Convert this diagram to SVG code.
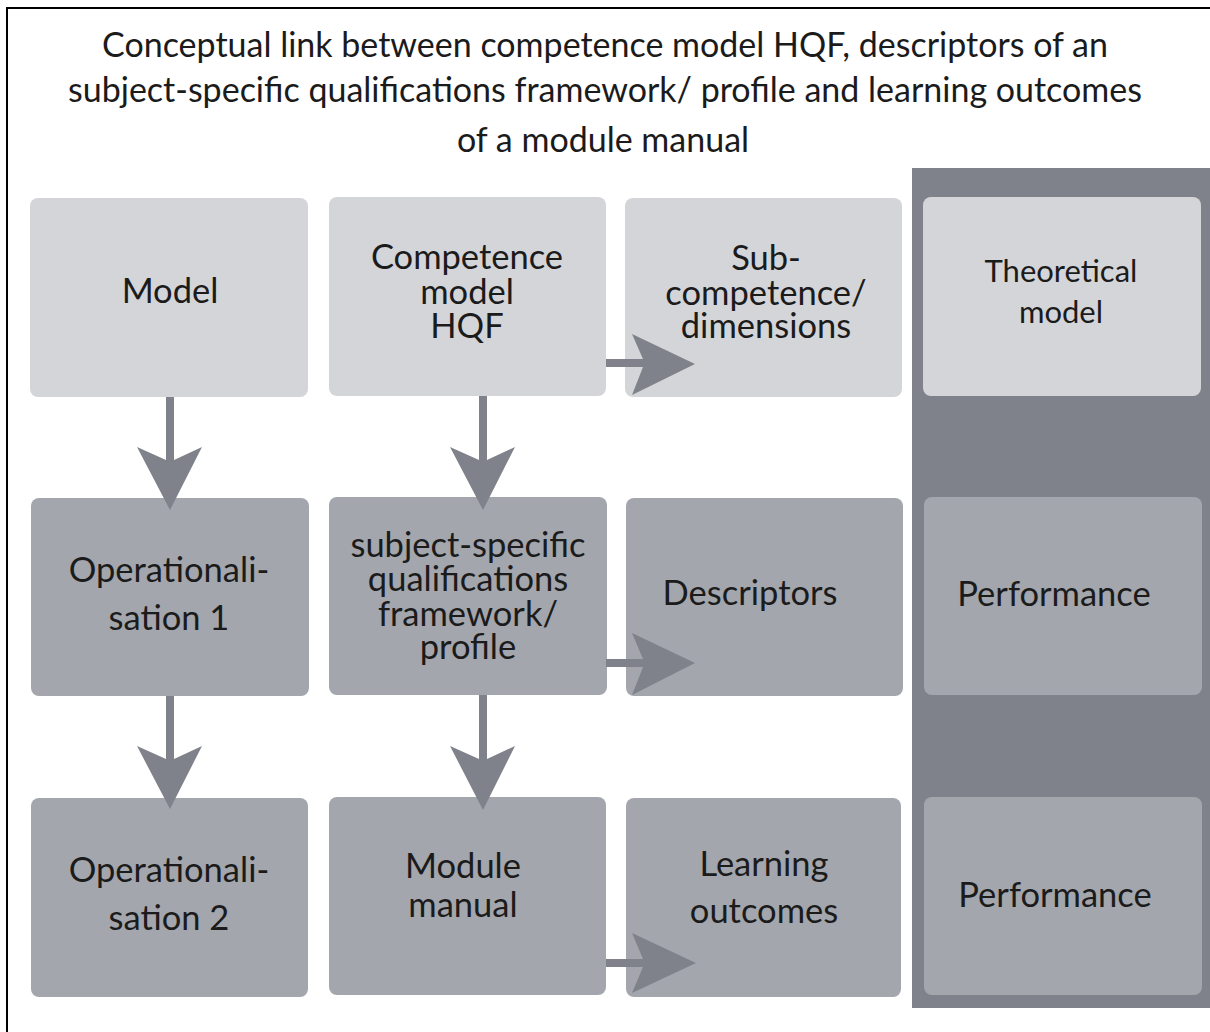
<svg xmlns="http://www.w3.org/2000/svg" width="1210" height="1032" viewBox="0 0 1210 1032">
  <style>
    .t { font-family: Lato, "Open Sans", "Liberation Sans", sans-serif; fill: #1b1b1b; text-anchor: middle; }
    .title { font-size: 34px; }
    .lbl { font-size: 34.5px; }
    .sm { font-size: 31px; }
    .light { fill: #d4d5d8; }
    .mid { fill: #a3a6ad; }
    .panel { fill: #7f828a; }
    .arrow { fill: #7f828a; }
  </style>
  <rect x="0" y="0" width="1210" height="1032" fill="#ffffff"/>
  <path d="M7,1032 L7,8 L1210,8" fill="none" stroke="#000000" stroke-width="2"/>

  <g id="title">
    <text class="t title" x="605" y="57">Conceptual link between competence model HQF, descriptors of an</text>
    <text class="t title" x="605" y="102">subject-specific qualifications framework/ profile and learning outcomes</text>
    <text class="t title" x="603" y="152">of a module manual</text>
  </g>

  <rect id="panel" class="panel" x="912" y="168" width="298" height="840"/>

  <g id="node-model">
    <rect class="light" x="30" y="198" width="278" height="199" rx="8"/>
    <text class="t lbl" x="170" y="303">Model</text>
  </g>
  <g id="node-competence">
    <rect class="light" x="329" y="197" width="277" height="199" rx="8"/>
    <text class="t lbl" x="467" y="269">Competence</text>
    <text class="t lbl" x="467" y="304">model</text>
    <text class="t lbl" x="467" y="338">HQF</text>
  </g>
  <g id="node-subcompetence">
    <rect class="light" x="625" y="198" width="277" height="199" rx="8"/>
    <text class="t lbl" x="766" y="270">Sub-</text>
    <text class="t lbl" x="766" y="305">competence/</text>
    <text class="t lbl" x="766" y="338">dimensions</text>
  </g>
  <g id="node-theoretical">
    <rect class="light" x="923" y="197" width="278" height="199" rx="8"/>
    <text class="t sm" x="1061" y="282">Theoretical</text>
    <text class="t sm" x="1061" y="323">model</text>
  </g>

  <g id="node-op1">
    <rect class="mid" x="31" y="498" width="278" height="198" rx="8"/>
    <text class="t lbl" x="169" y="582">Operationali-</text>
    <text class="t lbl" x="169" y="630">sation 1</text>
  </g>
  <g id="node-subject">
    <rect class="mid" x="329" y="497" width="278" height="198" rx="8"/>
    <text class="t lbl" x="468" y="557">subject-specific</text>
    <text class="t lbl" x="468" y="591">qualifications</text>
    <text class="t lbl" x="468" y="626">framework/</text>
    <text class="t lbl" x="468" y="659">profile</text>
  </g>
  <g id="node-descriptors">
    <rect class="mid" x="626" y="498" width="277" height="198" rx="8"/>
    <text class="t lbl" x="750" y="605">Descriptors</text>
  </g>
  <g id="node-performance1">
    <rect class="mid" x="924" y="497" width="278" height="198" rx="8"/>
    <text class="t lbl" x="1054" y="606">Performance</text>
  </g>

  <g id="node-op2">
    <rect class="mid" x="31" y="798" width="277" height="199" rx="8"/>
    <text class="t lbl" x="169" y="882">Operationali-</text>
    <text class="t lbl" x="169" y="930">sation 2</text>
  </g>
  <g id="node-module">
    <rect class="mid" x="329" y="797" width="277" height="198" rx="8"/>
    <text class="t lbl" x="463" y="878">Module</text>
    <text class="t lbl" x="463" y="917">manual</text>
  </g>
  <g id="node-learning">
    <rect class="mid" x="626" y="798" width="275" height="199" rx="8"/>
    <text class="t lbl" x="764" y="876">Learning</text>
    <text class="t lbl" x="764" y="923">outcomes</text>
  </g>
  <g id="node-performance2">
    <rect class="mid" x="924" y="797" width="278" height="198" rx="8"/>
    <text class="t lbl" x="1055" y="907">Performance</text>
  </g>

  <g id="connectors">
    <path class="arrow" d="M166,397 L166,460 L137,447 L170,510 L202,447 L174,460 L174,397 Z"/>
    <path class="arrow" d="M479,396 L479,460 L450,447 L483,510 L515,447 L487,460 L487,396 Z"/>
    <path class="arrow" d="M166,696 L166,759 L137,746 L170,809 L202,746 L174,759 L174,696 Z"/>
    <path class="arrow" d="M479,695 L479,759 L450,746 L483,810 L515,746 L487,759 L487,695 Z"/>
    <path class="arrow" d="M606,359 L643,359 L632,334 L695,364 L632,395 L643,367 L606,367 Z"/>
    <path class="arrow" d="M606,659 L643,659 L632,633 L695,663 L632,695 L643,667 L606,667 Z"/>
    <path class="arrow" d="M606,959 L643,959 L632,933 L696,963 L632,993 L643,967 L606,967 Z"/>
  </g>
</svg>
